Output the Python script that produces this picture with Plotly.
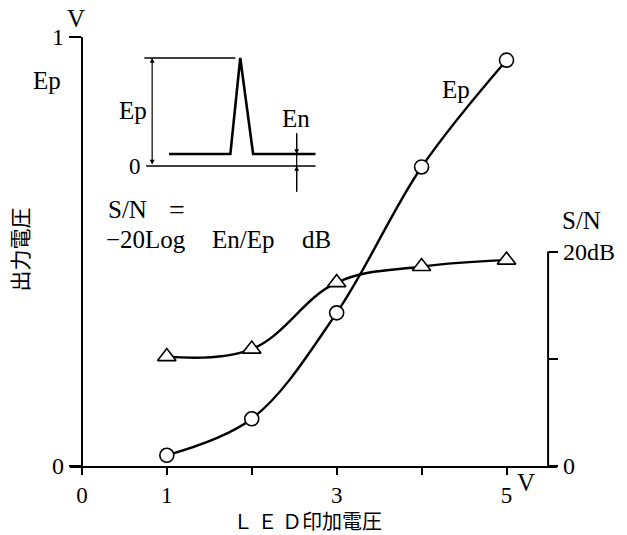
import plotly.graph_objects as go

# LED drive voltage (V)
led_voltage = [1, 2, 3, 4, 5]
# output voltage Ep (V), left axis
ep_values = [0.025, 0.11, 0.357, 0.697, 0.946]
# S/N ratio (dB), right axis
sn_values = [10.2, 10.9, 17.1, 18.6, 19.2]

x_tick_vals = [0, 1, 2, 3, 4, 5]
x_tick_text = ["0", "1", "", "3", "", "5"]
left_tick_vals = [0, 1]
left_tick_text = ["0", "1"]
right_tick_vals = [0, 10, 20]
right_tick_text = ["0", "", "20dB"]

# inset pulse sketch: time (arb.) and amplitude normalised to Ep
pulse_t = [25, 87, 97, 110, 173]
pulse_a = [0.111, 0.111, 1.0, 0.111, 0.111]
noise_level = 0.111

W, H = 627, 535
L, R, T, B = 70, 65, 37, 69
PW, PH = W - L - R, H - T - B

SERIF = "Liberation Serif"
CJK = "Noto Sans CJK JP"


def px(x):
    return (x - L) / PW


def py(y):
    return (H - B - y) / PH


fig = go.Figure()

fig.add_trace(go.Scatter(
    x=led_voltage, y=ep_values, mode="lines+markers",
    line=dict(color="black", width=2.4, shape="spline", smoothing=1.0),
    marker=dict(symbol="circle", size=14, color="white",
                line=dict(color="black", width=1.6)),
    xaxis="x", yaxis="y", showlegend=False, cliponaxis=False,
))

fig.add_trace(go.Scatter(
    x=led_voltage, y=sn_values, mode="lines+markers",
    line=dict(color="black", width=2.4, shape="spline", smoothing=1.1),
    marker=dict(symbol="triangle-up", size=16, color="white",
                line=dict(color="black", width=1.6)),
    xaxis="x", yaxis="y2", showlegend=False, cliponaxis=False,
))

# inset pulse
fig.add_trace(go.Scatter(
    x=pulse_t, y=pulse_a, mode="lines",
    line=dict(color="black", width=2.6),
    xaxis="x3", yaxis="y3", showlegend=False,
))

x_span = PW / 85.8
x_left = -12 / 85.8
right_pos = px(553)

fig.update_layout(
    width=W, height=H,
    margin=dict(l=L, r=R, t=T, b=B),
    paper_bgcolor="white", plot_bgcolor="white",
    font=dict(family=SERIF, size=22, color="black"),
    xaxis=dict(
        range=[x_left, x_left + x_span], domain=[0, 1],
        showgrid=False, zeroline=False,
        showline=True, linecolor="black", linewidth=2,
        ticks="outside", ticklen=7, tickwidth=2, tickcolor="black",
        tickvals=x_tick_vals, ticktext=x_tick_text,
        tickfont=dict(family=SERIF, size=23),
    ),
    yaxis=dict(
        range=[0, 1], domain=[0, 1],
        anchor="free", position=px(82),
        showgrid=False, zeroline=False,
        showline=True, linecolor="black", linewidth=2,
        ticks="outside", ticklen=12, tickwidth=2, tickcolor="black",
        tickvals=left_tick_vals, ticktext=left_tick_text,
        tickfont=dict(family=SERIF, size=24),
    ),
    yaxis2=dict(
        range=[0, 40], overlaying="y", side="right",
        anchor="free", position=right_pos,
        showgrid=False, zeroline=False, showline=False,
        ticks="outside", ticklen=9, tickwidth=2, tickcolor="black",
        tickvals=right_tick_vals, ticktext=right_tick_text,
        tickfont=dict(family=SERIF, size=24),
    ),
    xaxis3=dict(
        domain=[px(145), px(320)], range=[0, 175], anchor="y3",
        visible=False, fixedrange=True,
    ),
    yaxis3=dict(
        domain=[py(195), py(55)],
        range=[-29 / 108, 111 / 108], anchor="x3",
        visible=False, fixedrange=True,
    ),
)

shapes = [
    # right S/N axis line (0 to 20 dB)
    dict(type="line", xref="paper", yref="y2", x0=right_pos, x1=right_pos,
         y0=0, y1=20, line=dict(color="black", width=2)),
    # inset zero line and Ep reference line
    dict(type="line", xref="x3", yref="y3", x0=2, x1=173, y0=0, y1=0,
         line=dict(color="black", width=1.6)),
    dict(type="line", xref="x3", yref="y3", x0=0, x1=92, y0=1, y1=1,
         line=dict(color="black", width=1.6)),
    # En measurement line
    dict(type="line", xref="x3", yref="y3", x0=154, x1=154,
         y0=0.306, y1=-0.24, line=dict(color="black", width=1.2)),
]
fig.update_layout(shapes=shapes)

annotations = []


def text(x, y, s, size=22, family=SERIF, xanchor="center", angle=0):
    annotations.append(dict(
        x=px(x), y=py(y), xref="paper", yref="paper", text=s,
        showarrow=False, xanchor=xanchor, yanchor="middle",
        textangle=angle, font=dict(family=family, size=size, color="black"),
    ))


text(76, 18, "V", 25)
text(47, 80, "Ep", 25)
text(460, 89, "Ep", 25)
# S/N definition
text(106, 209, "S/N", 25, xanchor="left")
text(178, 209, "=", 28)
text(104, 239, "−20Log", 25, xanchor="left")
text(245, 239, "En/Ep", 25)
text(319, 239, "dB", 25)
text(587, 220, "S/N", 25)
text(531, 482, "V", 25)
text(310, 520, "Ｌ Ｅ Ｄ印加電圧", 20, family=CJK)
text(18, 250, "出力電圧", 21, family=CJK, angle=-90)
# inset labels
text(134, 110, "Ep", 25)
text(136, 166, "0", 23)
text(298, 119, "En", 25)

# inset arrows: Ep span (double-headed) and En markers
annotations.append(dict(
    x=8, y=1, ax=8, ay=0, xref="x3", yref="y3", axref="x3", ayref="y3",
    showarrow=True, arrowhead=2, arrowside="end+start", arrowsize=0.8,
    arrowwidth=1.2, arrowcolor="black", text="",
))
annotations.append(dict(
    x=154, y=noise_level, ax=154, ay=0.306, xref="x3", yref="y3",
    axref="x3", ayref="y3", showarrow=True, arrowhead=2, arrowsize=0.8,
    arrowwidth=1.2, arrowcolor="black", text="",
))
annotations.append(dict(
    x=154, y=0, ax=154, ay=-0.24, xref="x3", yref="y3",
    axref="x3", ayref="y3", showarrow=True, arrowhead=2, arrowsize=0.8,
    arrowwidth=1.2, arrowcolor="black", text="",
))
fig.update_layout(annotations=annotations)

fig.write_html("out.html")
